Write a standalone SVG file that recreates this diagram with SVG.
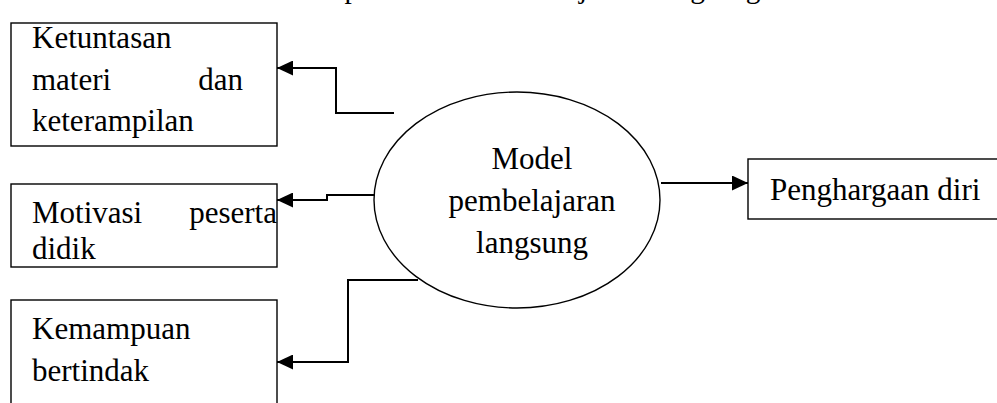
<svg xmlns="http://www.w3.org/2000/svg" width="997" height="403" viewBox="0 0 997 403">
<style>
  .box { fill: #fff; stroke: #000; stroke-width: 1.4; }
  .txt { font-family: "Liberation Serif", "Times New Roman", serif; font-size: 31px; fill: #000; }
  .cap { font-family: "Liberation Serif", "Times New Roman", serif; font-size: 29.3px; fill: #000; }
  .conn { fill: none; stroke: #000; stroke-width: 2; }
</style>
<defs>
  <marker id="arrow" viewBox="0 0 16 15" refX="16" refY="7.5" markerWidth="16" markerHeight="15" markerUnits="userSpaceOnUse" orient="auto">
    <path d="M0,0 L16,7.5 L0,15 z" fill="#000"/>
  </marker>
</defs>
<rect width="997" height="403" fill="#fff"/>
<text class="cap" x="142" y="-2.5">Gambar 2.2 Dampak Model Pembelajaran Langsung</text>

<g id="node-ketuntasan">
  <rect class="box" x="11" y="23" width="266" height="123"/>
  <text class="txt" x="32" y="48">Ketuntasan</text>
  <text class="txt" x="32" y="90">materi</text>
  <text class="txt" x="243" y="90" text-anchor="end">dan</text>
  <text class="txt" x="32" y="131">keterampilan</text>
</g>
<g id="node-motivasi">
  <rect class="box" x="11" y="184" width="266" height="83"/>
  <text class="txt" x="32" y="223">Motivasi</text>
  <text class="txt" x="277" y="223" text-anchor="end">peserta</text>
  <text class="txt" x="32" y="259">didik</text>
</g>
<g id="node-kemampuan">
  <rect class="box" x="11" y="300" width="266" height="130"/>
  <text class="txt" x="32" y="339">Kemampuan</text>
  <text class="txt" x="32" y="381">bertindak</text>
</g>
<g id="node-model">
  <ellipse fill="#fff" stroke="#000" stroke-width="1.4" cx="517" cy="200" rx="143" ry="108"/>
  <text class="txt" x="532" y="169" text-anchor="middle">Model</text>
  <text class="txt" x="532" y="211" text-anchor="middle">pembelajaran</text>
  <text class="txt" x="532" y="253" text-anchor="middle">langsung</text>
</g>
<g id="node-penghargaan">
  <rect class="box" x="748" y="159" width="270" height="60"/>
  <text class="txt" x="770" y="200">Penghargaan diri</text>
</g>

<g id="connectors">
  <path class="conn" d="M394,113 L336,113 L336,68 L277,68" marker-end="url(#arrow)"/>
  <path class="conn" d="M375,195 L327,195 L327,200 L277,200" marker-end="url(#arrow)"/>
  <path class="conn" d="M418,280 L348,280 L348,362 L277,362" marker-end="url(#arrow)"/>
  <path class="conn" d="M661,183 L748,183" marker-end="url(#arrow)"/>
</g>
</svg>
